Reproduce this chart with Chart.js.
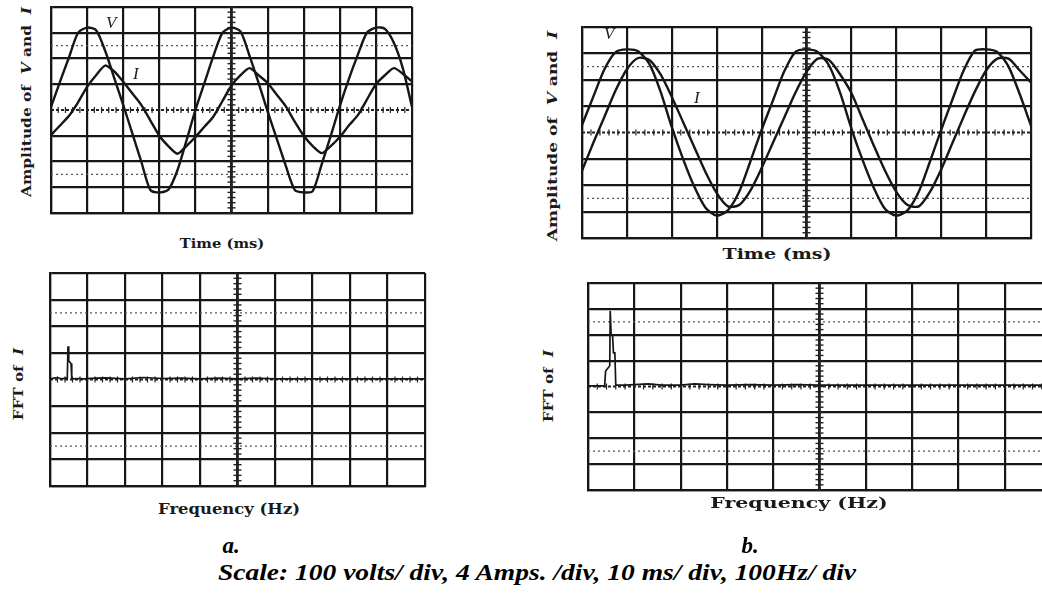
<!DOCTYPE html>
<html lang="en">
<head>
<meta charset="UTF-8">
<title>V and I waveforms with FFT of I</title>
<style>
  body { margin: 0; background: #fff; }
  #page { position: relative; width: 1042px; height: 594px; overflow: hidden; background: #fff; }
  #page canvas { position: absolute; }
  .lbl { position: absolute; white-space: nowrap; font-family: 'DejaVu Serif', serif; font-weight: bold; color: #1a1a1a; line-height: 1; }
  .cap { position: absolute; white-space: nowrap; font-family: 'Liberation Serif', 'Times New Roman', serif;
         font-weight: bold; font-style: italic; color: #000; line-height: 1; }
  .mk { position: absolute; font-family: 'Liberation Serif', serif; font-style: italic; color: #222; line-height: 1; }
</style>
</head>
<body>
<div id="page">
  <canvas id="topA" width="369" height="214" style="left:47px; top:3px;"></canvas>
  <canvas id="botA" width="383" height="221" style="left:46px; top:269px;"></canvas>
  <canvas id="topB" width="457" height="219" style="left:578px; top:23px;"></canvas>
  <canvas id="botB" width="471" height="215" style="left:584px; top:279px;"></canvas>

  <div class="lbl" data-w="190" data-r="-90" style="left:27px; top:102px; font-size:12px;">Amplitude of &nbsp;<i>V</i> and &nbsp;<i>I</i></div>
  <div class="lbl" data-w="85" style="left:222px; top:243px; font-size:13px;">Time (ms)</div>
  <div class="lbl" data-w="72" data-r="-90" style="left:19px; top:384px; font-size:12px;">FFT of &nbsp;<i>I</i></div>
  <div class="lbl" data-w="142" style="left:229px; top:509px; font-size:14px;">Frequency (Hz)</div>

  <div class="lbl" data-w="210" data-r="-90" style="left:552px; top:136px; font-size:13px;">Amplitude of &nbsp;<i>V</i> and &nbsp;<i>I</i></div>
  <div class="lbl" data-w="109" style="left:777px; top:254px; font-size:15px;">Time (ms)</div>
  <div class="lbl" data-w="72" data-r="-90" style="left:549px; top:386px; font-size:12px;">FFT of &nbsp;<i>I</i></div>
  <div class="lbl" data-w="178" style="left:799px; top:503px; font-size:15px;">Frequency (Hz)</div>

  <div class="mk" style="left:106px; top:14px; font-size:17px;">V</div>
  <div class="mk" style="left:133px; top:65px; font-size:17px;">I</div>
  <div class="mk" style="left:604px; top:25px; font-size:17px;">V</div>
  <div class="mk" style="left:694px; top:89px; font-size:17px;">I</div>

  <div class="cap" style="left:231px; top:545px; font-size:23px;">a.</div>
  <div class="cap" style="left:750px; top:545px; font-size:23px;">b.</div>
  <div class="cap" data-w="638" style="left:537px; top:572px; font-size:24px;">Scale: 100 volts/ div, 4 Amps. /div, 10 ms/ div, 100Hz/ div</div>
</div>

<script src="https://cdn.jsdelivr.net/npm/chart.js"></script>
<script>
// time axis, 10 ms per division
const timeMs = [0, 2.5, 5, 7.5, 10, 12.5, 15, 17.5, 20, 22.5, 25, 27.5, 30, 32.5, 35, 37.5, 40, 42.5, 45, 47.5,
                50, 52.5, 55, 57.5, 60, 62.5, 65, 67.5, 70, 72.5, 75, 77.5, 80, 82.5, 85, 87.5, 90, 92.5, 95, 97.5, 100]

// case a
const voltsA = [12, 110, 205, 300, 320, 310, 230, 125, 20, -90, -200, -310, -320, -310, -235, -120, 0, 105, 210, 300,
                320, 305, 210, 105, -5, -110, -215, -310, -320, -315, -210, -100, 15, 120, 215, 300, 320, 315, 260, 160, 12]
const ampsA = [-3.9, -2.4, -0.9, 1.2, 3.6, 5.4, 6.9, 6.0, 4.4, 2.6, 0.8, -1.6, -4.0, -5.6, -6.8, -5.6, -4.2, -2.6, -1.0, 1.4,
               3.8, 5.4, 6.5, 5.4, 4.2, 2.4, 0.6, -1.8, -4.0, -5.6, -6.7, -5.6, -4.2, -2.4, -0.8, 1.6, 4.0, 5.4, 6.5, 5.6, 4.4]
const freqA = [0, 10, 20, 30, 42, 46, 47, 48, 50, 53, 56, 58, 62, 75, 90, 120, 150, 200, 250, 300,
               350, 400, 450, 500, 550, 600, 700, 800, 900, 1000]
const fftA = [0.1, 0.2, 0.3, 0.1, 0.2, 0.1, 0.1, 5.0, 2.8, 2.6, 2.4, 0.2, 0.1, 0.15, 0.1, 0.2, 0.25, 0.1, 0.3, 0.15,
              0.2, 0.1, 0.2, 0.1, 0.2, 0.1, 0.1, 0.1, 0.1, 0.1]

// case b
const voltsB = [28, 135, 240, 305, 315, 308, 260, 155, 20, -100, -205, -285, -315, -295, -225, -110, 10, 120, 230, 305,
                315, 305, 255, 150, 15, -105, -210, -290, -315, -295, -225, -110, 10, 125, 235, 310, 315, 305, 250, 145, 26]
const ampsB = [-5.8, -1.6, 2.4, 6.4, 9.6, 11.3, 11.0, 8.8, 5.4, 1.6, -2.2, -6.0, -9.2, -11.2, -11.0, -8.8, -5.4, -1.6, 2.2, 6.0,
               9.2, 11.2, 11.0, 8.8, 6.0, 2.0, -2.0, -5.8, -9.0, -11.0, -11.2, -9.0, -5.6, -1.6, 2.4, 6.2, 9.4, 11.2, 11.2, 9.4, 7.6]
const freqB = [0, 20, 36, 38, 45, 47, 48, 50, 53, 55, 58, 60, 80, 100, 130, 160, 200, 230, 260, 300,
               350, 400, 450, 500, 600, 700, 800, 900, 1000]
const fftB = [0.1, 0.1, 0.1, 2.4, 3.0, 3.2, 11.7, 8.0, 8.0, 5.2, 5.2, 0.2, 0.2, 0.3, 0.4, 0.2, 0.2, 0.4, 0.3, 0.2,
              0.3, 0.2, 0.3, 0.2, 0.2, 0.2, 0.2, 0.2, 0.2]

const ink = '#161616'

const pts = (xs, ys) => xs.map((x, i) => ({ x: x, y: ys[i] }))

// dotted lines, centre cross and its small ticks, like a scope screen
const graticule = {
  id: 'graticule',
  beforeDatasetsDraw(chart, args, opts) {
    const { ctx, chartArea: a } = chart
    const sx = chart.scales.x, sy = chart.scales.y
    const xMid = (sx.min + sx.max) / 2
    const yMid = (sy.min + sy.max) / 2
    const dx = (sx.max - sx.min) / 50
    const dy = (sy.max - sy.min) / 40
    ctx.save()
    ctx.strokeStyle = '#555'
    ctx.lineWidth = 1.3
    ctx.setLineDash([2, 3])
    opts.dotted.forEach(v => {
      const py = sy.getPixelForValue(v)
      ctx.beginPath(); ctx.moveTo(a.left, py); ctx.lineTo(a.right, py); ctx.stroke()
    })
    const py0 = sy.getPixelForValue(yMid)
    ctx.strokeStyle = '#222'
    ctx.lineWidth = 2
    ctx.setLineDash([3, 2])
    ctx.beginPath(); ctx.moveTo(a.left, py0); ctx.lineTo(a.right, py0); ctx.stroke()
    ctx.setLineDash([])
    ctx.lineWidth = 1.2
    for (let v = sx.min; v <= sx.max; v += dx) {
      const px = sx.getPixelForValue(v)
      ctx.beginPath(); ctx.moveTo(px, py0 - 3); ctx.lineTo(px, py0 + 3); ctx.stroke()
    }
    const px0 = sx.getPixelForValue(xMid)
    ctx.lineWidth = 2.6
    ctx.beginPath(); ctx.moveTo(px0, a.top); ctx.lineTo(px0, a.bottom); ctx.stroke()
    ctx.lineWidth = 1.4
    for (let v = sy.min; v <= sy.max; v += dy) {
      const py = sy.getPixelForValue(v)
      ctx.beginPath(); ctx.moveTo(px0 - 4, py); ctx.lineTo(px0 + 4, py); ctx.stroke()
    }
    ctx.restore()
  }
}

const gridOf = (hideZero) => ({
  color: c => (hideZero && c.tick && c.tick.value === 0) ? 'rgba(0,0,0,0)' : ink,
  lineWidth: 2.2,
  drawTicks: false
})

function makePanel(id, datasets, xMax, yLim, dotted, second) {
  const scales = {
    x: { type: 'linear', min: 0, max: xMax, ticks: { display: false, stepSize: xMax / 10 },
         grid: gridOf(false), border: { display: true, color: ink, width: 2.2 } },
    y: { type: 'linear', min: -yLim, max: yLim, ticks: { display: false, stepSize: yLim / 4 },
         grid: gridOf(true), border: { display: true, color: ink, width: 2.2 } }
  }
  if (second) {
    scales.yI = { type: 'linear', display: false, min: -second, max: second }
  }
  return new Chart(document.getElementById(id), {
    type: 'line',
    data: { datasets: datasets },
    options: {
      responsive: false,
      animation: false,
      layout: { padding: 4 },
      plugins: { legend: { display: false }, tooltip: { enabled: false }, graticule: { dotted: dotted } },
      scales: scales
    },
    plugins: [graticule]
  })
}

const wave = (data, axis) => ({
  data: data, yAxisID: axis, borderColor: ink, borderWidth: 2.4, pointRadius: 0, tension: 0.25, fill: false
})
const spectrum = (data) => ({
  data: data, yAxisID: 'y', borderColor: ink, borderWidth: 1.7, pointRadius: 0, tension: 0, fill: false
})

makePanel('topA', [wave(pts(timeMs, voltsA), 'y'), wave(pts(timeMs, ampsA), 'yI')], 100, 400, [-250, 250], 16)
makePanel('topB', [wave(pts(timeMs, voltsB), 'y'), wave(pts(timeMs, ampsB), 'yI')], 100, 400, [-250, 250], 16)
makePanel('botA', [spectrum(pts(freqA, fftA))], 1000, 16, [-10, 10])
makePanel('botB', [spectrum(pts(freqB, fftB))], 1000, 16, [-10, 10])

// stretch the labels to the width they have in the figure
function placeLabels() {
  document.querySelectorAll('.lbl, .cap').forEach(el => {
    const w = el.offsetWidth
    const target = +el.dataset.w
    const s = target ? target / w : 1
    const r = el.dataset.r || 0
    el.style.transform = `translate(-50%, -50%) rotate(${r}deg) scaleX(${s})`
  })
}
placeLabels()
document.fonts.ready.then(placeLabels)
</script>
</body>
</html>
